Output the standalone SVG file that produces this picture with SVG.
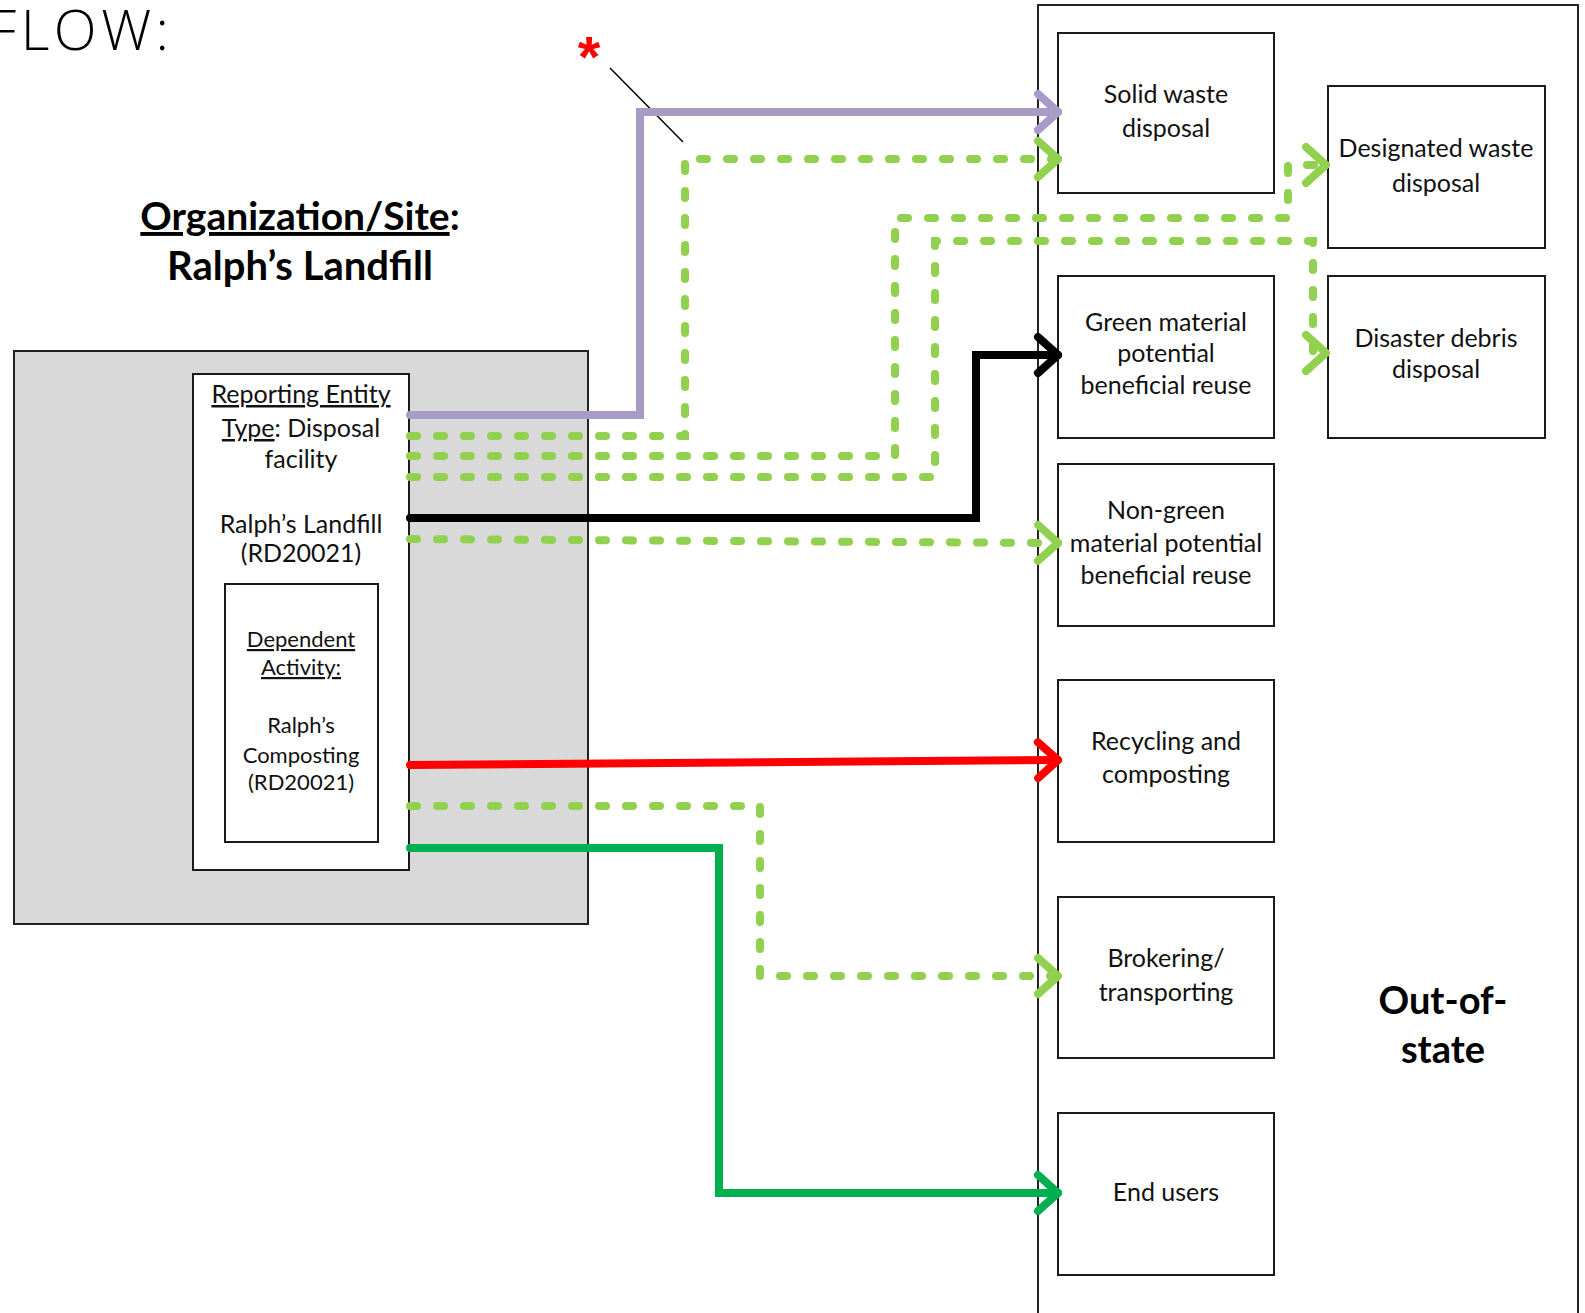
<svg xmlns="http://www.w3.org/2000/svg" width="1585" height="1313" viewBox="0 0 1585 1313">
<defs>
<style>
.box{fill:#fff;stroke:#1a1a1a;stroke-width:2}
.t{font-family:Lato,"Liberation Sans",sans-serif;font-size:25px;fill:#111;text-anchor:middle}
.ts{font-family:Lato,"Liberation Sans",sans-serif;font-size:22px;fill:#111;text-anchor:middle}
.tb{font-family:Lato,"Liberation Sans",sans-serif;font-weight:bold;font-size:39px;fill:#000;text-anchor:middle}
.u{text-decoration:underline}
.ln{fill:none;stroke-width:8;stroke-linecap:round;stroke-linejoin:miter}
.dash{stroke:#92d050;stroke-dasharray:7 20}
.chev{fill:none;stroke-width:8;stroke-linecap:round;stroke-linejoin:round}
</style>
<marker id="mPurple" markerUnits="userSpaceOnUse" markerWidth="60" markerHeight="60" refX="0" refY="0" orient="auto" overflow="visible"><path class="chev" d="M-20,-18 L0,0 L-20,18" stroke="#a99bc8"/></marker>
<marker id="mLime" markerUnits="userSpaceOnUse" markerWidth="60" markerHeight="60" refX="0" refY="0" orient="auto" overflow="visible"><path class="chev" d="M-20,-18 L0,0 L-20,18" stroke="#92d050"/></marker>
<marker id="mBlack" markerUnits="userSpaceOnUse" markerWidth="60" markerHeight="60" refX="0" refY="0" orient="auto" overflow="visible"><path class="chev" d="M-20,-18 L0,0 L-20,18" stroke="#000"/></marker>
<marker id="mRed" markerUnits="userSpaceOnUse" markerWidth="60" markerHeight="60" refX="0" refY="0" orient="auto" overflow="visible"><path class="chev" d="M-20,-18 L0,0 L-20,18" stroke="#ff0000"/></marker>
<marker id="mGreen" markerUnits="userSpaceOnUse" markerWidth="60" markerHeight="60" refX="0" refY="0" orient="auto" overflow="visible"><path class="chev" d="M-20,-18 L0,0 L-20,18" stroke="#00b050"/></marker>
</defs>
<rect width="1585" height="1313" fill="#fff"/>

<g id="heading">
<text x="-12" y="50" style="font-family:'Open Sans','Liberation Sans',sans-serif;font-weight:300;font-size:56px;letter-spacing:4.5px;fill:#000">FLOW:</text>
</g>

<g id="asterisk-note">
<text x="589" y="77" style="font-family:'Liberation Sans',sans-serif;font-weight:bold;font-size:58px;fill:#ff0000;text-anchor:middle">*</text>
<line x1="610" y1="68" x2="683" y2="142" stroke="#000" stroke-width="1.5"/>
</g>

<g id="org-title">
<text class="tb" x="300" y="230"><tspan class="u">Organization/Site</tspan>:</text>
<text class="tb" x="300" y="280" style="font-size:40px">Ralph’s Landfill</text>
</g>

<g id="organization-site">
<rect x="14" y="351" width="574" height="573" fill="#d9d9d9" stroke="#222" stroke-width="2"/>
</g>

<g id="reporting-entity">
<rect class="box" x="193" y="374" width="216" height="496"/>
<text class="t" x="301" y="403"><tspan class="u">Reporting Entity</tspan></text>
<text class="t" x="301" y="437"><tspan class="u">Type</tspan>: Disposal</text>
<text class="t" x="301" y="468">facility</text>
<text class="t" x="301" y="533">Ralph’s Landfill</text>
<text class="t" x="301" y="562">(RD20021)</text>
</g>

<g id="dependent-activity">
<rect class="box" x="225" y="584" width="153" height="258"/>
<text class="ts" x="301" y="647"><tspan class="u">Dependent</tspan></text>
<text class="ts" x="301" y="675"><tspan class="u">Activity:</tspan></text>
<text class="ts" x="301" y="733">Ralph’s</text>
<text class="ts" x="301" y="763">Composting</text>
<text class="ts" x="301" y="790">(RD20021)</text>
</g>

<g id="out-of-state">
<rect x="1038" y="5" width="540" height="1320" fill="#fff" stroke="#222" stroke-width="2"/>
<text class="tb" x="1443" y="1014" style="font-size:38px">Out-of-</text>
<text class="tb" x="1443" y="1063" style="font-size:38px">state</text>
</g>

<g id="solid-waste">
<rect class="box" x="1058" y="33" width="216" height="160"/>
<text class="t" x="1166" y="103">Solid waste</text>
<text class="t" x="1166" y="137">disposal</text>
</g>

<g id="designated-waste">
<rect class="box" x="1328" y="86" width="217" height="162"/>
<text class="t" x="1436" y="157">Designated waste</text>
<text class="t" x="1436" y="192">disposal</text>
</g>

<g id="green-material">
<rect class="box" x="1058" y="276" width="216" height="162"/>
<text class="t" x="1166" y="331">Green material</text>
<text class="t" x="1166" y="362">potential</text>
<text class="t" x="1166" y="394">beneficial reuse</text>
</g>

<g id="disaster-debris">
<rect class="box" x="1328" y="276" width="217" height="162"/>
<text class="t" x="1436" y="347">Disaster debris</text>
<text class="t" x="1436" y="378">disposal</text>
</g>

<g id="non-green-material">
<rect class="box" x="1058" y="464" width="216" height="162"/>
<text class="t" x="1166" y="519">Non-green</text>
<text class="t" x="1166" y="552">material potential</text>
<text class="t" x="1166" y="584">beneficial reuse</text>
</g>

<g id="recycling">
<rect class="box" x="1058" y="680" width="216" height="162"/>
<text class="t" x="1166" y="750">Recycling and</text>
<text class="t" x="1166" y="783">composting</text>
</g>

<g id="brokering">
<rect class="box" x="1058" y="897" width="216" height="161"/>
<text class="t" x="1166" y="967">Brokering/</text>
<text class="t" x="1166" y="1001">transporting</text>
</g>

<g id="end-users">
<rect class="box" x="1058" y="1113" width="216" height="162"/>
<text class="t" x="1166" y="1201">End users</text>
</g>

<g id="connectors">
<path class="ln" d="M410,415 H640 V112 H1058" stroke="#a99bc8" marker-end="url(#mPurple)"/>
<path class="ln dash" d="M410,436 H685 V159 H1058" marker-end="url(#mLime)"/>
<path class="ln dash" d="M410,456 H895 V218 H1288 V165 H1326" marker-end="url(#mLime)"/>
<path class="ln dash" d="M410,477 H935 V241 H1313 V353 H1326" marker-end="url(#mLime)"/>
<path class="ln" d="M410,518 H976 V355 H1058" stroke="#000" marker-end="url(#mBlack)"/>
<path class="ln dash" d="M410,539 L1058,543" marker-end="url(#mLime)"/>
<path class="ln" d="M410,765 L1058,760" stroke="#ff0000" marker-end="url(#mRed)"/>
<path class="ln dash" d="M410,806 H760 V976 H1058" marker-end="url(#mLime)"/>
<path class="ln" d="M410,848 H719 V1193 H1058" stroke="#00b050" marker-end="url(#mGreen)"/>
</g>
</svg>
